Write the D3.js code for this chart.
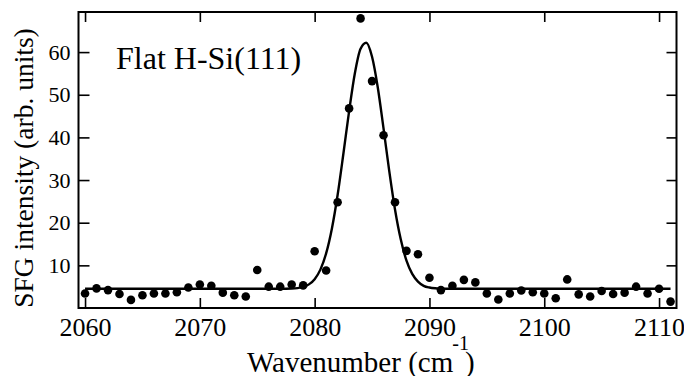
<!DOCTYPE html>
<html>
<head>
<meta charset="utf-8">
<script src="https://cdn.jsdelivr.net/npm/d3@7"></script>
</head>
<body style="margin:0; background:#fff">
<div id="chart"></div>
<script>

// measured SFG points, one per wavenumber
var wavenumber = [2060, 2061, 2062, 2063, 2064, 2065, 2066, 2067, 2068, 2069,
                  2070, 2071, 2072, 2073, 2074, 2075, 2076, 2077, 2078, 2079,
                  2080, 2081, 2082, 2083, 2084, 2085, 2086, 2087, 2088, 2089,
                  2090, 2091, 2092, 2093, 2094, 2095, 2096, 2097, 2098, 2099,
                  2100, 2101, 2102, 2103, 2104, 2105, 2106, 2107, 2108, 2109,
                  2110, 2111];
var intensity = [3.4, 4.6, 4.2, 3.3, 1.9, 3.0, 3.4, 3.4, 3.7, 4.8,
                 5.5, 5.2, 3.6, 3.0, 2.7, 8.9, 5.0, 5.0, 5.5, 5.3,
                 13.3, 8.8, 24.8, 46.8, 67.9, 53.2, 40.5, 24.8, 13.4, 12.6,
                 7.1, 4.2, 5.2, 6.6, 6.0, 3.4, 2.0, 3.4, 4.1, 3.7,
                 3.4, 2.3, 6.7, 3.2, 2.7, 4.0, 3.3, 3.6, 5.0, 3.4,
                 4.5, 1.5];

// fitted curve
var fitX = [2060, 2077, 2078, 2078.5, 2079, 2079.5, 2080, 2080.5, 2081, 2081.5,
            2082, 2082.5, 2083, 2083.5, 2084, 2084.5, 2085, 2085.5, 2086, 2086.5,
            2087, 2087.5, 2088, 2088.5, 2089, 2089.5, 2090, 2090.5, 2091, 2092, 2111];
var fitY = [4.5, 4.5, 4.56, 4.67, 4.94, 5.54, 6.76, 9.0, 12.8, 18.6,
            26.5, 36.1, 46.1, 55.0, 60.8, 62.2, 58.9, 51.7, 42.1, 32.1,
            23.1, 16.1, 11.1, 8.0, 6.2, 5.2, 4.8, 4.62, 4.55, 4.5, 4.5];

var xTicks = [2060, 2070, 2080, 2090, 2100, 2110];
var yTicks = [10, 20, 30, 40, 50, 60];

var width = 684, height = 376;
var plotLeft = 78.5, plotRight = 676.5, plotTop = 12, plotBottom = 308;
var serif = "'Liberation Serif'";

var svg = d3.select("#chart").append("svg")
    .attr("width", width)
    .attr("height", height)
    .style("display", "block");

var x = d3.scaleLinear()
    .domain([2059.43, 2111.52])
    .range([plotLeft, plotRight]);

var y = d3.scaleLinear()
    .domain([0, 69.4])
    .range([plotBottom, plotTop]);

// axes, ticks pointing inward
var xAxis = svg.append("g")
    .attr("transform", "translate(0," + plotBottom + ")")
    .call(d3.axisBottom(x).tickValues(xTicks).tickFormat(d3.format("d"))
        .tickSize(-10).tickSizeOuter(0).tickPadding(9.5));

var xTop = svg.append("g")
    .attr("transform", "translate(0," + plotTop + ")")
    .call(d3.axisTop(x).tickValues(xTicks).tickFormat("")
        .tickSize(-10).tickSizeOuter(0));

var yAxis = svg.append("g")
    .attr("transform", "translate(" + plotLeft + ",0)")
    .call(d3.axisLeft(y).tickValues(yTicks).tickFormat(d3.format("d"))
        .tickSize(-11).tickSizeOuter(0).tickPadding(8));

var yRight = svg.append("g")
    .attr("transform", "translate(" + plotRight + ",0)")
    .call(d3.axisRight(y).tickValues(yTicks).tickFormat("")
        .tickSize(-10).tickSizeOuter(0));

svg.selectAll(".domain").remove();
svg.selectAll("g").attr("font-family", serif);
svg.selectAll(".tick line").attr("stroke", "#000").attr("stroke-width", 1.6);
svg.selectAll(".tick text").attr("fill", "#000").style("font-family", serif);
xAxis.selectAll(".tick text").style("font-size", "26px");
yAxis.selectAll(".tick text").style("font-size", "22px");

// frame
svg.append("rect")
    .attr("x", plotLeft)
    .attr("y", plotTop)
    .attr("width", plotRight - plotLeft)
    .attr("height", plotBottom - plotTop)
    .attr("fill", "none")
    .attr("stroke", "#000")
    .attr("stroke-width", 2);

// fit line
var fitData = fitX.map(function(d, i) { return [d, fitY[i]]; });
var line = d3.line()
    .x(function(d) { return x(d[0]); })
    .y(function(d) { return y(d[1]); })
    .curve(d3.curveMonotoneX);

svg.append("path")
    .datum(fitData)
    .attr("d", line)
    .attr("fill", "none")
    .attr("stroke", "#000")
    .attr("stroke-width", 2.4);

// data points
svg.append("g").selectAll("circle")
    .data(wavenumber)
    .join("circle")
    .attr("cx", function(d) { return x(d); })
    .attr("cy", function(d, i) { return y(intensity[i]); })
    .attr("r", 4.3)
    .attr("fill", "#000");

// labels
svg.append("text")
    .attr("x", 116)
    .attr("y", 69)
    .style("font-family", serif)
    .style("font-size", "32px")
    .text("Flat H-Si(111)");

svg.append("text")
    .attr("transform", "translate(33,168) rotate(-90)")
    .attr("text-anchor", "middle")
    .style("font-family", serif)
    .style("font-size", "27.5px")
    .text("SFG intensity (arb. units)");

var xTitle = svg.append("text")
    .attr("x", 247)
    .attr("y", 372)
    .style("font-family", serif)
    .style("font-size", "29px");
xTitle.append("tspan").text("Wavenumber (cm");
xTitle.append("tspan")
    .attr("dy", -22)
    .attr("dx", -1)
    .style("font-size", "20px")
    .text("-1");
xTitle.append("tspan")
    .attr("dy", 22)
    .attr("dx", -4)
    .text(")");

</script>
</body>
</html>
